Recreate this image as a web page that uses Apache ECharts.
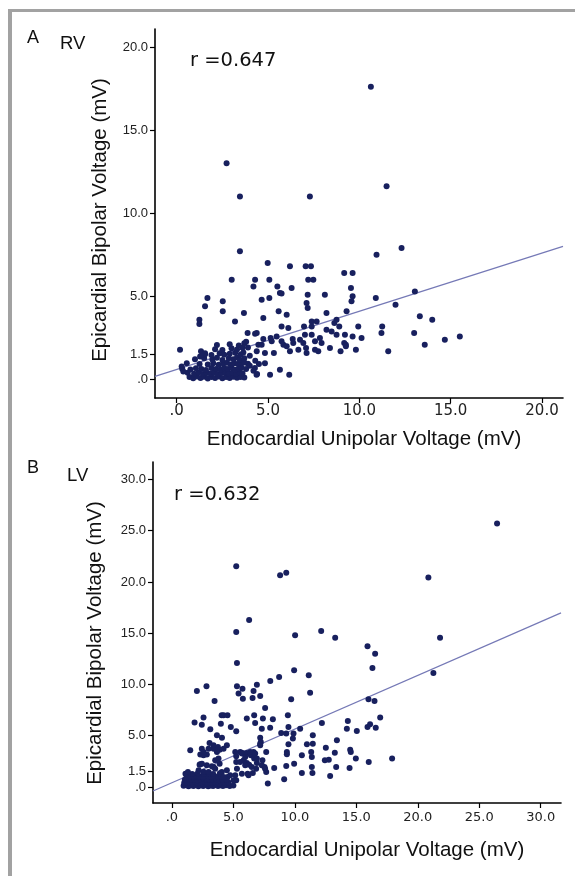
<!DOCTYPE html>
<html>
<head>
<meta charset="utf-8">
<script src="https://cdn.jsdelivr.net/npm/echarts@6/dist/echarts.min.js"></script>
<style>
html,body{margin:0;padding:0;background:#fff;}
#chart{width:575px;height:876px;}
</style>
</head>
<body>
<div id="chart"></div>
<script>
// ---------- Panel A (RV) ----------
const rvXRange = [-1.19, 21.15];
const rvYRange = [-1.14, 21.08];
const rvXTicks = [0, 5, 10, 15, 20];
const rvXLabels = ['.0', '5.0', '10.0', '15.0', '20.0'];
const rvYTicks = [0, 1.5, 5, 10, 15, 20];
const rvYLabels = ['.0', '1.5', '5.0', '10.0', '15.0', '20.0'];
const rvFit = [[-1.19, 0.16], [21.15, 7.99]];
const rvR = 'r =0.647';

const rvPointsUpper = [
  [10.63,17.6],[2.73,13.0],[11.49,11.61],[3.46,11.0],[7.29,11.0],[3.46,7.69],[10.94,7.49],[12.31,7.89],
  [4.98,6.99],[6.2,6.79],[7.06,6.79],[7.35,6.79],[9.17,6.39],[9.63,6.39],[3.01,5.98],[4.29,5.98],
  [5.07,5.98],[7.2,5.98],[7.48,5.98],[4.2,5.58],[5.51,5.58],[6.29,5.48],[5.65,5.18],[5.74,5.16],
  [9.54,5.48],[1.68,4.88],[5.07,4.88],[4.65,4.78],[7.17,5.08],[8.11,5.08],[9.63,4.98],[9.57,4.68],
  [10.9,4.88],[13.04,5.28],[2.52,4.68],[1.55,4.38],[2.52,4.08],[3.68,3.98],[5.58,4.08],[7.11,4.58],
  [7.17,4.28],[8.2,3.98],[9.3,4.08],[11.98,4.48],[13.31,3.78],[13.99,3.57],[1.24,3.57],[1.24,3.31]
];
const rvPointsMiddle = [
  [4.74,3.67],[6.02,3.88],[3.19,3.47],[7.39,3.47],[7.66,3.47],[8.75,3.57],[5.74,3.17],[6.11,3.07],
  [6.97,3.17],[7.39,3.17],[8.2,2.97],[8.48,2.87],[8.63,3.37],[8.9,3.17],[9.94,3.17],[11.25,3.17],
  [11.21,2.77],[13.0,2.77],[8.75,2.67],[9.21,2.67],[9.63,2.57],[10.12,2.47],[14.68,2.37],[15.5,2.57],
  [13.58,2.07],[3.88,2.77],[4.29,2.73],[4.38,2.77],[5.47,2.57],[4.74,2.41],[5.2,2.27],[5.14,2.47],
  [5.74,2.27],[5.84,2.07],[6.35,2.41],[6.38,2.17],[6.75,2.37],[6.93,2.17],[7.02,2.67],[7.39,2.67],
  [7.57,2.27],[7.84,2.47],[7.93,2.17],[8.39,1.87],[9.17,2.17],[9.26,2.07],[8.97,1.67],[9.26,1.97],
  [9.81,1.77],[11.58,1.67],[0.18,1.77],[1.33,1.67],[4.47,2.07],[4.38,1.67],[4.83,1.57],[5.32,1.57],
  [6.02,1.97],[6.2,1.67],[6.66,1.77],[7.08,1.87],[7.11,1.57],[7.57,1.77],[7.75,1.67],[5.65,0.56],
  [5.11,0.26],[6.16,0.26]
];
const rvCluster = [
  [0.7,0.12],[0.9,0.05],[1.1,0.15],[1.3,0.06],[1.5,0.14],[1.7,0.04],[1.9,0.12],[2.1,0.07],
  [2.3,0.15],[2.5,0.05],[2.7,0.12],[2.9,0.06],[3.1,0.14],[3.3,0.08],[3.5,0.13],[3.7,0.1],
  [0.6,0.38],[0.95,0.32],[1.2,0.4],[1.45,0.3],[1.65,0.37],[1.85,0.33],[2.05,0.41],[2.25,0.31],
  [2.45,0.36],[2.65,0.4],[2.85,0.33],[3.05,0.38],[3.25,0.3],[3.45,0.4],[3.6,0.35],
  [0.3,0.62],[0.75,0.58],[1.05,0.65],[1.35,0.6],[1.6,0.55],[1.9,0.66],[2.15,0.6],[2.4,0.57],
  [2.6,0.66],[2.8,0.6],[3.0,0.68],[3.2,0.56],[3.4,0.64],[3.55,0.7],[3.8,0.6],
  [0.55,0.95],[1.25,0.9],[1.7,0.88],[2.0,0.95],[2.3,0.86],[2.55,0.93],[2.75,0.98],[2.95,0.87],
  [3.15,0.95],[3.35,0.9],[3.5,1.0],[3.9,0.92],
  [1.0,1.2],[1.5,1.25],[1.95,1.18],[2.2,1.28],[2.5,1.15],[2.85,1.25],[3.1,1.2],[3.3,1.3],
  [3.45,1.17],[3.7,1.25],
  [1.55,1.5],[1.9,1.45],[2.35,1.55],[2.6,1.47],[2.9,1.52],[3.2,1.58],[3.5,1.48],[3.65,1.6],
  [2.1,1.8],[2.5,1.75],[3.0,1.85],[3.3,1.78],[3.6,1.88],
  [2.2,2.05],[2.9,2.1],[3.4,2.02],[3.7,2.15],
  [3.7,1.0],[4.0,0.8],[4.2,0.5],[4.4,0.3],[4.3,1.1],[4.0,1.4],[3.9,1.9],[3.8,2.25],[4.5,0.9],
  [4.65,2.07],[4.83,0.96],[4.28,0.66],[4.37,0.26],[0.27,0.76],[0.36,0.46],[1.28,1.36],[1.55,1.56]
];

// ---------- Panel B (LV) ----------
const lvXRange = [-1.54, 31.65];
const lvYRange = [-1.56, 31.7];
const lvXTicks = [0, 5, 10, 15, 20, 25, 30];
const lvXLabels = ['.0', '5.0', '10.0', '15.0', '20.0', '25.0', '30.0'];
const lvYTicks = [0, 1.5, 5, 10, 15, 20, 25, 30];
const lvYLabels = ['.0', '1.5', '5.0', '10.0', '15.0', '20.0', '25.0', '30.0'];
const lvFit = [[-1.54, -0.39], [31.65, 16.98]];
const lvR = 'r =0.632';

const lvPointsUpper = [
  [26.45,25.7],[5.23,21.53],[8.8,20.66],[9.3,20.9],[20.86,20.44],[6.28,16.3],[5.23,15.12],[10.02,14.8],
  [12.14,15.22],[13.28,14.57],[21.81,14.57],[15.91,13.72],[16.53,13.0],[16.31,11.61],[21.27,11.12],[5.29,12.1],
  [9.94,11.38],[11.13,10.9],[11.24,9.2],[2.03,9.37],[2.81,9.82],[5.29,9.82],[5.74,9.59],[5.42,9.11],
  [5.77,8.62],[6.64,9.37],[6.91,9.98],[8.0,10.34],[8.72,10.73],[6.56,8.69],[7.18,8.88],[3.47,8.39],
  [7.58,7.71],[9.7,8.55],[15.99,8.55],[16.48,8.39],[1.84,6.28],[2.43,6.08],[2.57,6.77],[4.04,7.0],
  [4.2,7.0],[4.52,7.0],[3.12,5.63],[3.98,6.18],[3.66,5.04],[4.07,4.81],[4.79,5.85],[5.23,5.43],
  [6.09,6.67],[6.69,7.0],[6.77,6.25],[7.4,6.67],[8.21,6.6],[7.31,5.69],[7.99,5.79],[9.43,7.0],
  [9.48,5.86],[10.43,5.69],[8.89,5.27],[9.3,5.21],[9.89,5.21],[12.2,6.25],[14.31,6.44],[14.23,5.69],
  [15.04,5.46],[15.91,5.86],[16.12,6.12],[16.58,5.79],[16.94,6.77],[11.46,5.04]
];
const lvPointsMiddle = [
  [7.18,4.81],[7.23,4.39],[7.18,4.07],[9.84,4.72],[9.48,4.16],[10.98,4.16],[11.46,4.23],[13.42,4.56],
  [12.52,3.84],[9.35,3.41],[9.35,3.2],[7.67,3.41],[10.57,3.09],[11.33,3.41],[11.38,2.93],[12.44,2.6],
  [12.76,2.67],[13.25,3.35],[14.5,3.64],[14.55,3.41],[14.96,2.77],[17.91,2.77],[16.01,2.44],[1.49,3.58],
  [2.31,3.16],[2.57,3.09],[2.84,3.16],[2.43,3.74],[3.39,3.74],[3.74,3.9],[3.88,3.64],[3.06,4.3],
  [2.25,2.18],[2.84,2.12],[3.39,1.96],[3.52,2.6],[3.88,2.28],[5.15,3.41],[5.23,2.99],[5.23,2.44],
  [5.29,1.79],[5.15,1.14],[5.23,0.65],[5.56,3.41],[5.74,3.32],[6.09,3.32],[6.64,3.41],[6.42,3.09],
  [5.83,2.6],[6.09,2.34],[6.28,2.18],[6.69,2.77],[6.91,2.34],[6.85,1.79],[6.16,1.3],[6.58,1.37],
  [7.53,1.95],[7.67,1.47],[7.36,2.6],[8.32,1.86],[7.8,0.33],[9.3,2.05],[9.13,0.75],[9.94,2.28],
  [10.57,1.37],[11.38,1.95],[11.43,1.37],[13.36,1.95],[12.87,1.07],[14.45,1.86],[4.52,0.98]
];
const lvCluster = [
  [0.95,0.12],[1.15,0.2],[1.35,0.08],[1.55,0.17],[1.75,0.1],[1.95,0.2],[2.15,0.08],[2.35,0.16],
  [2.55,0.1],[2.75,0.19],[2.95,0.08],[3.15,0.15],[3.35,0.1],[3.55,0.2],[3.75,0.09],[3.95,0.16],
  [4.15,0.1],[4.4,0.18],[4.7,0.1],[5.0,0.15],
  [1.0,0.42],[1.25,0.38],[1.45,0.45],[1.7,0.36],[1.9,0.44],[2.1,0.38],[2.3,0.46],[2.5,0.37],
  [2.7,0.43],[2.9,0.36],[3.1,0.45],[3.3,0.39],[3.55,0.44],[3.8,0.37],[4.05,0.42],[4.3,0.38],[4.6,0.45],
  [1.05,0.7],[1.35,0.75],[1.6,0.68],[1.85,0.74],[2.05,0.66],[2.35,0.72],[2.6,0.77],[2.85,0.68],
  [3.05,0.74],[3.3,0.7],[3.6,0.76],[3.85,0.67],[4.1,0.73],[4.45,0.7],
  [1.2,1.0],[1.5,1.05],[1.8,0.98],[2.0,1.06],[2.25,1.0],[2.55,0.97],[2.95,1.04],[3.2,1.0],
  [3.45,1.07],[3.75,0.98],[4.0,1.03],
  [1.1,1.3],[1.65,1.28],[2.1,1.35],[2.6,1.27],[3.0,1.32],[3.35,1.26],[3.9,1.33],
  [1.3,1.47],[2.3,2.21],[2.98,3.74],[2.57,3.42],[3.38,4.07],[3.66,3.42],[3.79,2.77],[4.2,3.74],
  [4.47,4.07],[2.44,2.28],[3.25,2.02],[5.69,3.26],[5.96,2.93],[6.37,3.42],[6.77,3.26],[5.55,2.44],
  [5.96,2.12],[6.5,1.95],[6.91,2.77],[7.31,2.12],[7.58,1.79],[7.18,4.23],[5.69,1.3],[6.23,1.14],
  [5.01,0.65],[2.17,1.63],[2.57,1.5],[2.98,1.47],[3.52,1.79],[4.06,1.47],[4.47,1.63],[4.74,1.14],[4.2,0.98]
];

// ---------- styling ----------
const DOT = '#18205e';
const FIT = '#7579b6';

function labelFor(ticks, labels) {
  return function (v) {
    let best = 0;
    for (let i = 0; i < ticks.length; i++) {
      if (Math.abs(ticks[i] - v) < Math.abs(ticks[best] - v)) best = i;
    }
    return labels[best];
  };
}

function xAxisCfg(gi, range, ticks, labels, fs, margin) {
  return {
    gridIndex: gi, type: 'value', min: range[0], max: range[1],
    splitLine: { show: false },
    axisLine: { onZero: false, lineStyle: { color: '#000', width: 1.6 } },
    axisTick: { customValues: ticks, length: 5, lineStyle: { color: '#000', width: 1.2 } },
    axisLabel: { customValues: ticks, formatter: labelFor(ticks, labels), fontSize: fs,
      fontFamily: 'DejaVu Sans', color: '#222', margin: margin }
  };
}
function yAxisCfg(gi, range, ticks, labels) {
  return {
    gridIndex: gi, type: 'value', min: range[0], max: range[1],
    splitLine: { show: false },
    axisLine: { onZero: false, lineStyle: { color: '#000', width: 1.6 } },
    axisTick: { customValues: ticks, length: 5, lineStyle: { color: '#000', width: 1.2 } },
    axisLabel: { customValues: ticks, formatter: labelFor(ticks, labels), fontSize: 13,
      fontFamily: 'Liberation Sans', color: '#222', margin: 7 }
  };
}
function scatter(gi, data) {
  return { type: 'scatter', xAxisIndex: gi, yAxisIndex: gi, data: data, symbol: 'circle',
    symbolSize: 6, itemStyle: { color: DOT, opacity: 1 }, z: 3, silent: true };
}
function fitLine(gi, data) {
  return { type: 'line', xAxisIndex: gi, yAxisIndex: gi, data: data, symbol: 'none',
    lineStyle: { color: FIT, width: 1.2 }, z: 2, silent: true };
}
function txt(x, y, text, fs, family, opts) {
  return Object.assign({ type: 'text', x: x, y: y, style: { text: text, fontSize: fs,
    fontFamily: family, fill: '#111', align: 'left', verticalAlign: 'middle' } }, opts || {});
}

const chart = echarts.init(document.getElementById('chart'), null, { renderer: 'canvas' });
const option = {
  animation: false,
  backgroundColor: '#ffffff',
  grid: [
    { left: 155, top: 29, width: 408, height: 369 },
    { left: 153, top: 462, width: 408, height: 341 }
  ],
  xAxis: [
    xAxisCfg(0, rvXRange, rvXTicks, rvXLabels, 15, 6),
    xAxisCfg(1, lvXRange, lvXTicks, lvXLabels, 13, 8)
  ],
  yAxis: [
    yAxisCfg(0, rvYRange, rvYTicks, rvYLabels),
    yAxisCfg(1, lvYRange, lvYTicks, lvYLabels)
  ],
  series: [
    fitLine(0, rvFit),
    scatter(0, rvPointsUpper), scatter(0, rvPointsMiddle), scatter(0, rvCluster),
    fitLine(1, lvFit),
    scatter(1, lvPointsUpper), scatter(1, lvPointsMiddle), scatter(1, lvCluster)
  ],
  graphic: [
    { type: 'rect', shape: { x: 8, y: 9, width: 567, height: 3 }, style: { fill: '#a2a2a2' } },
    { type: 'rect', shape: { x: 8, y: 9, width: 4, height: 867 }, style: { fill: '#a2a2a2' } },
    txt(27, 38, 'A', 18, 'Liberation Sans'),
    txt(60, 43.5, 'RV', 18.5, 'Liberation Sans'),
    txt(190, 60.5, rvR, 19.5, 'DejaVu Sans'),
    txt(27, 468.5, 'B', 18, 'Liberation Sans'),
    txt(67, 476, 'LV', 18.5, 'Liberation Sans'),
    txt(174, 494.5, lvR, 19.5, 'DejaVu Sans'),
    { type: 'text', x: 364, y: 439.5, style: { text: 'Endocardial Unipolar Voltage (mV)', fontSize: 20.5,
      fontFamily: 'Liberation Sans', fill: '#111', align: 'center', verticalAlign: 'middle' } },
    { type: 'text', x: 367, y: 850, style: { text: 'Endocardial Unipolar Voltage (mV)', fontSize: 20.5,
      fontFamily: 'Liberation Sans', fill: '#111', align: 'center', verticalAlign: 'middle' } },
    { type: 'text', x: 100.5, y: 220, rotation: Math.PI / 2, style: { text: 'Epicardial Bipolar Voltage (mV)',
      fontSize: 20.5, fontFamily: 'Liberation Sans', fill: '#111', align: 'center', verticalAlign: 'middle' } },
    { type: 'text', x: 95, y: 643, rotation: Math.PI / 2, style: { text: 'Epicardial Bipolar Voltage (mV)',
      fontSize: 20.5, fontFamily: 'Liberation Sans', fill: '#111', align: 'center', verticalAlign: 'middle' } }
  ]
};
chart.setOption(option);
</script>
</body>
</html>
